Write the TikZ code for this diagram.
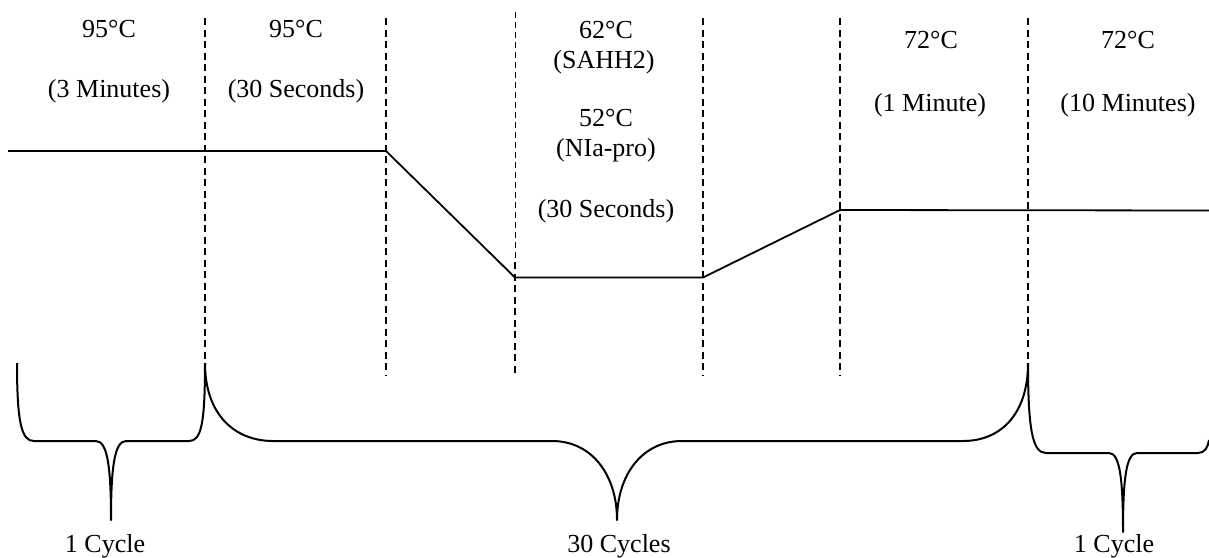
\documentclass[tikz,border=0pt]{standalone}
\usepackage{fontspec}
\setmainfont{Liberation Serif}
\begin{document}
\begin{tikzpicture}[x=1pt,y=-1pt,
  lbl/.style={anchor=base,inner sep=0pt,font=\fontsize{26}{30}\selectfont},
  divider/.style={line width=1.9pt,dash pattern=on 7pt off 4.5pt},
  thindiv/.style={line width=0.9pt,dash pattern=on 6pt off 4pt},
  profile/.style={line width=1.8pt,line join=round},
  bracket/.style={line width=2pt,line join=round}]
\useasboundingbox (0,0) rectangle (1209,557);

% step boundaries
\draw[divider] (205,18) -- (205,363);
\draw[divider] (386,18) -- (386,375);
\draw[thindiv] (515,12) -- (515,262);
\draw[divider] (515,262) -- (515,375);
\draw[divider] (703,18) -- (703,375);
\draw[divider] (840,18) -- (840,375);
\draw[divider] (1028,18) -- (1028,363);

% temperature profile
\coordinate (p0) at (8,151);
\coordinate (p1) at (386,151);
\coordinate (p2) at (515,277.5);
\coordinate (p3) at (703,277.5);
\coordinate (p4) at (840,210);
\coordinate (p5) at (1209,210.5);
\draw[profile] (p0) -- (p1) -- (p2) -- (p3) -- (p4) -- (p5);

% step labels
\node[lbl] (a1) at (109,37) {95°C};
\node[lbl] (a2) at (109,97) {(3 Minutes)};
\node[lbl] (b1) at (296,37) {95°C};
\node[lbl] (b2) at (296,97) {(30 Seconds)};
\node[lbl] (c1) at (606,38) {62°C};
\node[lbl] (c2) at (604,68) {(SAHH2)};
\node[lbl] (c3) at (606,126) {52°C};
\node[lbl] (c4) at (606,156) {(NIa-pro)};
\node[lbl] (c5) at (606,217) {(30 Seconds)};
\node[lbl] (d1) at (931,48) {72°C};
\node[lbl] (d2) at (930,111) {(1 Minute)};
\node[lbl] (e1) at (1128,48) {72°C};
\node[lbl] (e2) at (1128,111) {(10 Minutes)};

% cycle brackets
\draw[bracket] (17,363) .. controls (17,425) and (22,441) .. (34,441)
  -- (96,441) .. controls (108,441) and (111,470) .. (111,520)
  .. controls (111,470) and (114,441) .. (126,441)
  -- (189,441) .. controls (201,441) and (205,425) .. (205,363);
\draw[bracket] (205,363) .. controls (205,415) and (235,441) .. (273,441)
  -- (552,441) .. controls (592,441) and (617,475) .. (617,520)
  .. controls (617,475) and (642,441) .. (682,441)
  -- (963,441) .. controls (1000,441) and (1028,415) .. (1028,363);
\draw[bracket] (1028,363) .. controls (1028,432) and (1033,453) .. (1046,453)
  -- (1109,453) .. controls (1120,453) and (1123,480) .. (1123,532)
  .. controls (1123,480) and (1126,453) .. (1137,453)
  -- (1198,453) .. controls (1205,453) and (1208,447) .. (1209,440);

\node[lbl] (n1) at (105,552) {1 Cycle};
\node[lbl] (n2) at (619,552) {30 Cycles};
\node[lbl] (n3) at (1114,552) {1 Cycle};
\end{tikzpicture}
\end{document}
